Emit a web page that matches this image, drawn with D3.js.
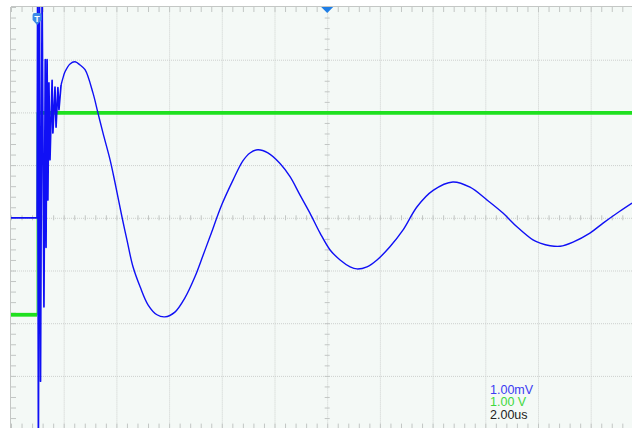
<!DOCTYPE html>
<html>
<head>
<meta charset="utf-8">
<script src="https://cdn.jsdelivr.net/npm/d3@7"></script>
<style>
  body { margin: 0; background: #fff; }
  svg { display: block; font-family: "Liberation Sans", Arial, sans-serif; }
</style>
</head>
<body>
<div id="app"></div>
<script>
"use strict";

// channel 1 (blue), time in us from left edge, value in mV
const blueTime = [
  0, 0.95, 0.99, 1.01, 1.04, 1.08, 1.12, 1.18, 1.25, 1.30, 1.33, 1.37, 1.40, 1.44, 1.48,
  1.56, 1.59, 1.67, 1.71, 1.78, 1.82, 1.90, 1.97, 2.05, 2.24, 2.43, 2.62, 2.81, 3.11,
  3.30, 3.49, 3.76, 3.95, 4.21, 4.40, 4.63, 4.90, 5.20, 5.54, 5.84, 6.22, 6.60, 6.98,
  7.29, 7.55, 8.01, 8.43, 8.80, 9.07, 9.37, 9.75, 10.21, 10.59, 10.97, 11.35, 11.73,
  12.11, 12.49, 12.87, 13.13, 13.51, 13.89, 14.38, 14.88, 15.41, 16.02, 16.77, 17.42, 18.06,
  18.67, 19.20, 19.81, 20.08, 20.46, 20.84, 21.33, 21.97, 22.47, 23.09, 23.57
];
const blueValue = [
  0, 0, 0, 4.3, -4.3, 4.3, -3.1, 4.3, -1.69, 3.0, -0.56, 3.0, 0.34, 2.56, 1.10,
  2.61, 1.61, 2.48, 1.72, 2.47, 2.05, 2.52, 2.65, 2.77, 2.92, 2.96, 2.90, 2.81, 2.37,
  1.99, 1.61, 1.10, 0.66, 0.02, -0.42, -0.93, -1.31, -1.65, -1.84, -1.88, -1.79, -1.52, -1.12,
  -0.71, -0.36, 0.26, 0.72, 1.08, 1.23, 1.29, 1.23, 1.03, 0.78, 0.43, 0.085, -0.29,
  -0.61, -0.80, -0.93, -0.97, -0.93, -0.80, -0.55, -0.23, 0.21, 0.52, 0.68, 0.58, 0.34,
  0.09, -0.17, -0.42, -0.48, -0.53, -0.54, -0.46, -0.29, -0.10, 0.12, 0.28
];

// channel 2 (green), time in us, value in V
const greenTime = [0, 0.99, 0.99, 24];
const greenValue = [-1.84, -1.84, 1.99, 1.99];

// scale readouts
const readouts = ["1.00mV", "1.00 V", "2.00us"];

const W = 632, H = 428;
const DIV = 52.7;
const plotLeft = 11, plotTop = 7;
const plotW = 12 * DIV, plotH = 8 * DIV;

const x = d3.scaleLinear().domain([0, 24]).range([plotLeft, plotLeft + plotW]);
const y = d3.scaleLinear().domain([-4, 4]).range([plotTop + plotH, plotTop]);

const majorX = d3.range(2, 24, 2);
const majorY = d3.range(-3, 4, 1);
const minorX = d3.range(0, 24.01, 0.4);
const minorY = d3.range(-4, 4.01, 0.2);

const svg = d3.select("#app").append("svg")
  .attr("width", W).attr("height", H);

svg.append("defs").append("clipPath").attr("id", "plotClip")
  .append("rect").attr("x", plotLeft).attr("y", plotTop).attr("width", plotW).attr("height", plotH);

svg.append("rect")
  .attr("x", plotLeft).attr("y", plotTop).attr("width", plotW).attr("height", plotH)
  .attr("fill", "#f4f9f6");

/**
 * Strips an axis down to its tick lines
 */
const tidy = (g, color) => {
  g.select(".domain").remove();
  g.selectAll("text").remove();
  g.selectAll("line").attr("stroke", color);
};

// dotted grid
svg.append("g")
  .attr("transform", `translate(0,${plotTop + plotH})`)
  .call(d3.axisBottom(x).tickValues(majorX).tickSize(-plotH).tickFormat(""))
  .call(g => tidy(g, "#cdd0ce"))
  .selectAll("line").attr("stroke-dasharray", "1,1");
svg.append("g")
  .attr("transform", `translate(${plotLeft},0)`)
  .call(d3.axisLeft(y).tickValues(majorY).tickSize(-plotW).tickFormat(""))
  .call(g => tidy(g, "#cdd0ce"))
  .selectAll("line").attr("stroke-dasharray", "1,1");

// minor ticks on the frame and on the centre lines
const tickColor = "#c2c6c4";
svg.append("g").attr("transform", `translate(0,${plotTop})`)
  .call(d3.axisTop(x).tickValues(minorX).tickSize(-5).tickFormat(""))
  .call(g => tidy(g, tickColor));
svg.append("g").attr("transform", `translate(0,${plotTop + plotH})`)
  .call(d3.axisBottom(x).tickValues(minorX).tickSize(-5).tickFormat(""))
  .call(g => tidy(g, tickColor));
svg.append("g").attr("transform", `translate(0,${y(0) - 2.5})`)
  .call(d3.axisBottom(x).tickValues(minorX).tickSize(5).tickFormat(""))
  .call(g => tidy(g, tickColor));
svg.append("g").attr("transform", `translate(${plotLeft},0)`)
  .call(d3.axisLeft(y).tickValues(minorY).tickSize(-5).tickFormat(""))
  .call(g => tidy(g, tickColor));
svg.append("g").attr("transform", `translate(${x(12) + 2.5},0)`)
  .call(d3.axisLeft(y).tickValues(minorY).tickSize(5).tickFormat(""))
  .call(g => tidy(g, tickColor));

// frame edges
svg.append("line").attr("x1", plotLeft - 0.5).attr("x2", plotLeft - 0.5)
  .attr("y1", plotTop).attr("y2", H).attr("stroke", "#c4c7c5");
svg.append("line").attr("x1", plotLeft).attr("x2", W)
  .attr("y1", plotTop - 0.5).attr("y2", plotTop - 0.5).attr("stroke", "#c4c7c5");

const traces = svg.append("g").attr("clip-path", "url(#plotClip)");

// green channel: thin edge, thick flat levels
const greenPts = greenTime.map((t, i) => [t, greenValue[i]]);
const line = d3.line().x(d => x(d[0])).y(d => y(d[1]));
traces.append("path").attr("d", line(greenPts))
  .attr("fill", "none").attr("stroke", "#3ee83e").attr("stroke-width", 1.2);
d3.pairs(greenPts).filter(p => p[0][1] === p[1][1]).forEach(p => {
  traces.append("path").attr("d", line(p))
    .attr("fill", "none").attr("stroke", "#1fe01f").attr("stroke-width", 3.8);
});

// blue channel: straight segments through the ringing, smooth afterwards
const bluePts = blueTime.map((t, i) => [t, blueValue[i]]);
const split = blueTime.findIndex(t => t >= 1.9);
traces.append("path")
  .attr("d", line(bluePts.slice(0, split + 1)))
  .attr("fill", "none").attr("stroke", "#1010f5").attr("stroke-width", 1.7)
  .attr("stroke-linejoin", "round");
traces.append("path")
  .attr("d", d3.line().x(d => x(d[0])).y(d => y(d[1]))
    .curve(d3.curveCatmullRom.alpha(0.5))(bluePts.slice(split)))
  .attr("fill", "none").attr("stroke", "#1010f5").attr("stroke-width", 1.4)
  .attr("stroke-linejoin", "round");

// trigger position marker at the top
const cx = x(12);
svg.append("path")
  .attr("d", `M${cx - 6},${plotTop} L${cx + 6},${plotTop} L${cx},${plotTop + 6} Z`)
  .attr("fill", "#1f7ee6");

// trigger level badge
const tx = x(0.99);
svg.append("path")
  .attr("d", `M${tx - 4.5},${plotTop + 8} Q${tx - 4.5},${plotTop + 6} ${tx - 2.5},${plotTop + 6}
    L${tx + 2.5},${plotTop + 6} Q${tx + 4.5},${plotTop + 6} ${tx + 4.5},${plotTop + 8}
    L${tx + 4.5},${plotTop + 13} L${tx},${plotTop + 18} L${tx - 4.5},${plotTop + 13} Z`)
  .attr("fill", "#3d8ae6");
svg.append("text").attr("x", tx).attr("y", plotTop + 14.5)
  .attr("text-anchor", "middle").attr("font-size", 9).attr("font-weight", "bold")
  .attr("fill", "#fff").text("T");

// scale readouts
const readColors = ["#3b3bf2", "#3ed83e", "#222"];
svg.selectAll("text.readout").data(readouts).join("text")
  .attr("class", "readout")
  .attr("x", 490)
  .attr("y", (d, i) => 393.5 + i * 12.7)
  .attr("font-size", 12.5)
  .attr("fill", (d, i) => readColors[i])
  .text(d => d);
</script>
</body>
</html>
